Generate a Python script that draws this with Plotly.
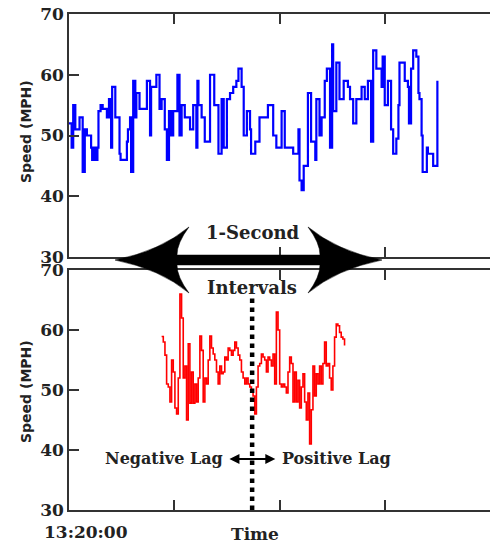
import numpy as np
import plotly.graph_objs as go

# seconds after 13:20:00 and speed (MPH)
blue_t = [0, 2.5, 4, 6, 10, 13, 15, 17, 21, 22, 24, 25, 27, 28, 30, 32, 36, 38, 40, 41,
          44, 48, 49, 55, 56, 58, 59, 61, 63, 64, 67, 74, 77, 78, 83, 86, 88, 91, 93, 95,
          97, 99, 103, 105, 107, 110, 115, 118, 121, 122, 123, 126, 129, 134, 138, 142, 145, 147, 150, 153,
          156, 159, 161, 164, 166, 169, 172, 173, 177, 181, 189, 194, 197, 202, 205, 213, 218, 219, 221, 223,
          227, 230, 234, 235, 238, 240, 243, 245, 248, 250, 251, 254, 257, 261, 265, 267, 270, 273, 278, 281,
          284, 287, 289, 292, 297, 298, 300, 303, 306, 308, 311, 313, 314, 319, 322, 323, 325, 327, 330, 332,
          333, 335, 336, 340, 341, 346, 349, 350]
blue_speed = [52, 48, 55, 51, 53, 44, 51, 50, 48, 46, 48, 46, 48, 54, 55, 54.4, 53, 56, 48, 58,
              53, 47, 46, 49, 51, 53, 44, 59, 53, 57, 54.4, 59, 50, 58, 60, 54.4, 56, 51, 46, 54,
              50, 54, 60, 50, 55, 53, 51, 55, 48, 59, 55, 53, 49, 60, 55, 47, 56, 48, 56, 57,
              58, 59, 61, 58, 50, 54, 51, 47, 49, 53, 55, 50, 48, 54, 48, 47, 51, 42.6, 41, 45,
              57, 49, 46, 56, 50, 53, 59, 61, 48, 65, 54, 62, 56, 59, 58, 56, 52, 56, 58, 56,
              59, 49, 64, 61, 58, 63, 55, 59, 51, 47, 49.5, 55, 62, 59, 58, 52, 61, 64, 63, 57,
              56, 50, 44, 48, 47, 45, 45, 59]

red_start = 88
red_step = 1.58
red_speed = [58.9, 58, 55.8, 51, 50.5, 48, 55, 53, 47, 46, 52, 66, 62, 52, 54, 45, 57.7, 47.8, 53, 47.8,
             51, 48, 52, 59, 56.6, 48, 52, 51, 55, 59, 57, 56, 55, 53, 51, 54, 52.7, 53, 55.5, 55,
             57, 56.6, 55.8, 56.6, 58, 57, 55.8, 55, 53, 52, 51, 52, 51, 50.5, 50, 49, 46, 50.5, 54, 54.4,
             56, 55.5, 55, 53, 55.5, 55, 54, 56, 51, 63, 60, 51, 50.5, 51, 50.5, 49.5, 53, 55.5, 54.4, 48,
             53, 48, 51.6, 47, 50.5, 52.7, 48, 45, 49.5, 41, 46.7, 54, 49, 52.7, 51, 54, 51, 54.4, 58, 54,
             54.4, 52, 50, 54, 58.8, 61, 60.7, 59.6, 58.8, 58.5, 57.4]
red_t = red_start + red_step * np.arange(len(red_speed))

lag_center = 174
lag_left, lag_right = 151, 196
lag_y = 38.5


def px_x(p):
    return (p - 69) / 421


def px_y(p):
    return (510 - p) / 496


def path(points):
    # points: list of ("M"/"L"/"Q", coords in pixels)
    out = ""
    for cmd, pts in points:
        out += cmd + " " + " ".join(f"{px_x(a):.4f},{px_y(b):.4f}" for a, b in pts) + " "
    return out + "Z"


big_arrow = path([
    ("M", [(115, 260)]),
    ("Q", [(160, 251), (189, 227)]),
    ("Q", [(177, 243), (177, 255)]),
    ("L", [(320, 255)]),
    ("Q", [(320, 243), (308, 227)]),
    ("Q", [(337, 251), (382, 260)]),
    ("Q", [(337, 269), (308, 293)]),
    ("Q", [(320, 277), (320, 265)]),
    ("L", [(177, 265)]),
    ("Q", [(177, 277), (189, 293)]),
    ("Q", [(160, 269), (115, 260)]),
])

serif = dict(family="DejaVu Serif", color="#222", weight="bold")
sans = dict(family="DejaVu Sans", color="#222", weight="bold")
axis_col = "#333"

fig = go.Figure([
    go.Scatter(x=blue_t, y=blue_speed, mode="lines", line=dict(color="#0000ff", width=2.2, shape="hv"),
               xaxis="x", yaxis="y", showlegend=False, hoverinfo="skip"),
    go.Scatter(x=red_t, y=red_speed, mode="lines", line=dict(color="#ff0000", width=1.6, shape="hv"),
               xaxis="x2", yaxis="y2", showlegend=False, hoverinfo="skip"),
])

xcommon = dict(range=[0, 400], showgrid=False, zeroline=False, showline=True, linecolor=axis_col,
               linewidth=1.5, mirror="ticks", ticks="inside", ticklen=10, tickwidth=1.5, tickcolor=axis_col,
               tickvals=[100, 200, 300], showticklabels=False)
ycommon = dict(range=[30, 70], showgrid=False, zeroline=False, showline=True, linecolor=axis_col,
               linewidth=1.5, ticks="inside", ticklen=10, tickwidth=1.5, tickcolor=axis_col,
               tickvals=[30, 40, 50, 60, 70], tickfont=dict(size=17, **serif))
yright = dict(range=[30, 70], showgrid=False, zeroline=False, showline=False, side="right",
              ticks="inside", ticklen=10, tickwidth=1.5, tickcolor=axis_col, tickvals=[40, 50, 60],
              showticklabels=False)

fig.update_layout(
    width=490, height=545,
    margin=dict(l=69, r=0, t=14, b=35),
    plot_bgcolor="white", paper_bgcolor="white",
    xaxis=dict(xcommon, anchor="y"),
    yaxis=dict(ycommon, anchor="x", domain=[0.510, 1]),
    xaxis2=dict(xcommon, anchor="y2"),
    yaxis2=dict(ycommon, anchor="x2", domain=[0, 0.484]),
    yaxis3=dict(yright, anchor="x", overlaying="y"),
    yaxis4=dict(yright, anchor="x2", overlaying="y2"),
    shapes=[
        dict(type="line", xref="x2", yref="y2", x0=lag_center, x1=lag_center, y0=30, y1=65.5,
             line=dict(color="black", width=4.5, dash="dot"), layer="above"),
        dict(type="path", xref="paper", yref="paper", path=big_arrow,
             fillcolor="black", line=dict(color="black", width=0.5)),
    ],
    annotations=[
        dict(xref="x2", yref="y2", x=lag_right, y=lag_y, ax=lag_left, ay=lag_y, axref="x2", ayref="y2",
             text="", showarrow=True, arrowside="end+start", arrowhead=2, arrowsize=1, arrowwidth=2,
             arrowcolor="black"),
        dict(xref="x2", yref="y2", x=lag_left - 3, y=lag_y, text="Negative Lag", showarrow=False,
             xanchor="right", yanchor="middle", font=dict(size=16, **serif)),
        dict(xref="x2", yref="y2", x=lag_right + 4, y=lag_y, text="Positive Lag", showarrow=False,
             xanchor="left", yanchor="middle", font=dict(size=16, **serif)),
        dict(xref="paper", yref="paper", x=px_x(252), y=px_y(232), text="1-Second", showarrow=False,
             xanchor="center", yanchor="middle", font=dict(size=18, **serif)),
        dict(xref="paper", yref="paper", x=px_x(252), y=px_y(287), text="Intervals", showarrow=False,
             xanchor="center", yanchor="middle", font=dict(size=18, **serif)),
        dict(xref="paper", yref="paper", x=px_x(42), y=px_y(532), text="13:20:00", showarrow=False,
             xanchor="left", yanchor="middle", font=dict(size=17, **serif)),
        dict(xref="paper", yref="paper", x=px_x(255), y=px_y(534), text="Time", showarrow=False,
             xanchor="center", yanchor="middle", font=dict(size=17, **serif)),
        dict(xref="paper", yref="paper", x=px_x(26), y=px_y(132), text="Speed (MPH)", showarrow=False,
             textangle=-90, xanchor="center", yanchor="middle", font=dict(size=14, **sans)),
        dict(xref="paper", yref="paper", x=px_x(26), y=px_y(392), text="Speed (MPH)", showarrow=False,
             textangle=-90, xanchor="center", yanchor="middle", font=dict(size=14, **sans)),
    ],
)

fig.write_html("out.html", config={"displayModeBar": False},
               post_script="document.body.style.margin='0';")
